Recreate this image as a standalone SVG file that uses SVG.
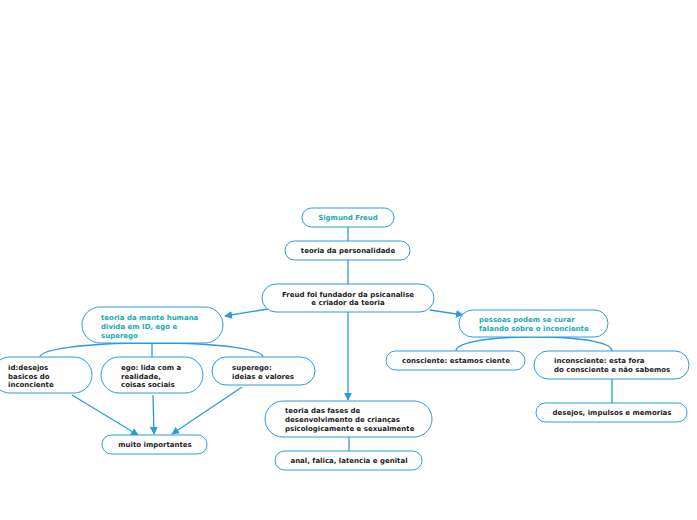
<svg xmlns="http://www.w3.org/2000/svg" width="697" height="520" viewBox="0 0 697 520">
<style>
.n{fill:#fff;stroke:#2a9be0;stroke-width:1}
.t{font-family:"DejaVu Sans",sans-serif;font-weight:bold;font-size:7px;fill:#222}
.c{fill:#1aa9ad}
.l{fill:none;stroke:#2a9be0;stroke-width:1.3}
</style>
<defs><marker id="a" viewBox="0 0 10 10" refX="9" refY="5" markerWidth="6" markerHeight="6" orient="auto"><path d="M0,0L10,5L0,10z" fill="#2a9be0"/></marker></defs>
<rect width="697" height="520" fill="#fff"/>
<g id="connectors">
<path class="l" d="M348,227V241M348,260V284M349,460V451M612,379V403"/>
<path class="l" d="M152,343V357M152,343C80,343 40,350 40,357M152,343C225,343 263,350 263,357"/>
<path class="l" d="M533,337C480,337 456,344 456,351M533,337C590,337 612,344 612,351"/>
<path class="l" d="M349,437V451"/>
<path class="l" marker-end="url(#a)" d="M268,309L225,316"/>
<path class="l" marker-end="url(#a)" d="M430,310L463,315"/>
<path class="l" marker-end="url(#a)" d="M348,312V400"/>
<path class="l" marker-end="url(#a)" d="M72,395L138,435"/>
<path class="l" marker-end="url(#a)" d="M153,395L154,434"/>
<path class="l" marker-end="url(#a)" d="M242,387L172,434"/>
</g>
<g id="n1"><rect class="n" x="302" y="208" width="92" height="19" rx="9.5"/><text class="t c" x="348" y="220" text-anchor="middle">Sigmund Freud</text></g>
<g id="n2"><rect class="n" x="285" y="241" width="125" height="19" rx="9.5"/><text class="t" x="348" y="253" text-anchor="middle">teoria da personalidade</text></g>
<g id="n3"><rect class="n" x="262" y="284" width="172" height="28" rx="14"/><text class="t" x="348" y="297" text-anchor="middle">Freud foi fundador da psicanalise</text><text class="t" x="348" y="305" text-anchor="middle">e criador da teoria</text></g>
<g id="n4"><rect class="n" x="82" y="307" width="141" height="36" rx="18"/><text class="t c" x="101" y="320">teoria da mente humana</text><text class="t c" x="101" y="329">divida em ID, ego e</text><text class="t c" x="101" y="338">superego</text></g>
<g id="n5"><rect class="n" x="-8" y="357" width="100" height="36" rx="18"/><text class="t" x="8" y="370">id:desejos</text><text class="t" x="8" y="379">basicos do</text><text class="t" x="8" y="387">inconciente</text></g>
<g id="n6"><rect class="n" x="101" y="357" width="102" height="36" rx="18"/><text class="t" x="121" y="370">ego: lida com a</text><text class="t" x="121" y="379">realidade,</text><text class="t" x="121" y="387">coisas sociais</text></g>
<g id="n7"><rect class="n" x="212" y="357" width="103" height="28" rx="14"/><text class="t" x="232" y="370">superego:</text><text class="t" x="232" y="379">ideias e valores</text></g>
<g id="n8"><rect class="n" x="102" y="435" width="105" height="19" rx="9.5"/><text class="t" x="155" y="447" text-anchor="middle">muito importantes</text></g>
<g id="n9"><rect class="n" x="265" y="401" width="167" height="36" rx="18"/><text class="t" x="285" y="413">teoria das fases de</text><text class="t" x="285" y="422">desenvolvimento de crianças</text><text class="t" x="285" y="431">psicologicamente e sexualmente</text></g>
<g id="n10"><rect class="n" x="275" y="451" width="147" height="19" rx="9.5"/><text class="t" x="349" y="463" text-anchor="middle">anal, falica, latencia e genital</text></g>
<g id="n11"><rect class="n" x="459" y="310" width="149" height="27" rx="13.5"/><text class="t c" x="479" y="322">pessoas podem se curar</text><text class="t c" x="479" y="331">falando sobre o inconciente</text></g>
<g id="n12"><rect class="n" x="386" y="351" width="139" height="19" rx="9.5"/><text class="t" x="456" y="363" text-anchor="middle">consciente: estamos ciente</text></g>
<g id="n13"><rect class="n" x="534" y="351" width="155" height="28" rx="14"/><text class="t" x="554" y="363">inconsciente: esta fora</text><text class="t" x="554" y="372">do consciente e não sabemos</text></g>
<g id="n14"><rect class="n" x="536" y="403" width="151" height="19" rx="9.5"/><text class="t" x="612" y="415" text-anchor="middle">desejos, impulsos e memorias</text></g>
</svg>
